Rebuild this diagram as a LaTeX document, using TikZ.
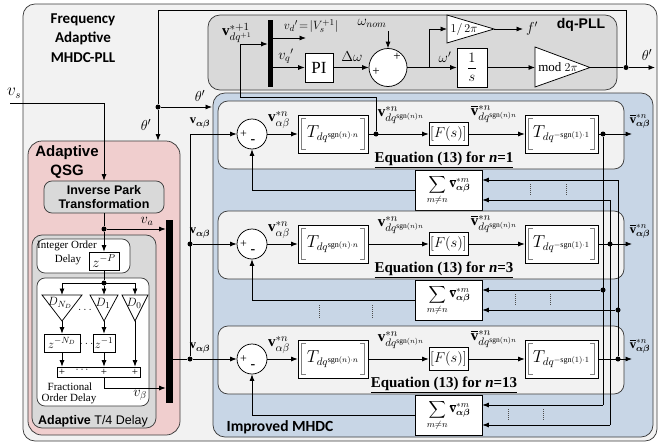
\documentclass[tikz,border=0pt]{standalone}
\usepackage{amsmath}
\usepackage{bm}
\usepackage{fontspec}
\setmainfont{Liberation Serif}
\newfontfamily\calfont{Carlito}
\newfontfamily\arfont{Liberation Sans}
\usetikzlibrary{arrows.meta,calc}
\definecolor{outerfill}{RGB}{242,242,242}
\definecolor{pllfill}{RGB}{217,217,217}
\definecolor{bluefill}{RGB}{200,214,230}
\definecolor{pinkfill}{RGB}{240,206,206}
\definecolor{rowfill}{RGB}{242,242,242}
\definecolor{edge}{RGB}{60,60,60}
\newcommand\bx[7]{\node[#6, minimum width={((#4)-(#2))*1pt}, minimum height={((#5)-(#3))*1pt}, inner sep=0pt] (#1) at ({((#2)+(#4))/2},{((#3)+(#5))/2}) {#7};}
\begin{document}
\begin{tikzpicture}[x=1pt,y=-1pt,line width=0.75pt,
  >={Latex[length=6.5pt,width=5pt]},
  every node/.style={font=\fontsize{13}{15}\selectfont},
  wbox/.style={draw, fill=white},
  dot/.style={circle, fill, inner sep=0pt, minimum size=5pt},
  lbl/.style={inner sep=1pt},
  mlbl/.style={inner sep=0.5pt, font=\fontsize{15}{17}\selectfont},
  vdts/.style={densely dotted, line width=1pt, black!70},
  brk/.style={gray, line width=0.6pt}]
\useasboundingbox (0,0) rectangle (658,447);

% ---------- frames ----------
\bx{outer}{23}{4}{657}{441}{draw=edge, fill=outerfill, rounded corners=12pt}{}
\node[font=\calfont\bfseries\fontsize{15}{19.5}\selectfont, align=center] (title) at (83,38) {Frequency\\Adaptive\\MHDC-PLL};

\bx{pll}{208}{15}{617}{90}{draw=edge, fill=pllfill, rounded corners=12pt}{}
\node[font=\arfont\bfseries\fontsize{14}{16}\selectfont] (plllbl) at (581,25) {dq-PLL};

\bx{mhdc}{213}{93}{653}{437}{draw=edge, fill=bluefill, rounded corners=12pt}{}
\node[font=\calfont\bfseries\fontsize{15.5}{18}\selectfont] (mhdclbl) at (280,427) {Improved MHDC};

\bx{qsg}{28}{141}{180}{435}{draw=edge, fill=pinkfill, rounded corners=14pt}{}
\node[font=\arfont\bfseries\fontsize{15}{19}\selectfont, align=center] (qsgl) at (67,162) {Adaptive\\QSG};

% ---------- dq-PLL ----------
\node[mlbl] (vpl) at (237,33) {$\mathbf{v}^{*+1}_{dq^{+1}}$};
\bx{dmx}{268}{20}{273}{87}{fill=black}{}
\coordinate (vdo) at (306,38);
\draw[->] (dmx.east |- vdo) -- (vdo);
\node[inner sep=0pt, font=\fontsize{13}{14}\selectfont] (vdl) at (311,26) {$v_d{}'\!=\!|V_s^{+1}|$};
\bx{pi}{305}{53}{333}{82}{wbox}{\fontsize{17}{17}\selectfont PI}
\draw[->] (dmx.east |- pi.west) -- (pi.west);
\node[lbl, font=\fontsize{14}{15}\selectfont] (vql) at (286,56) {$v_q{}'$};
\node[circle, draw, fill=white, minimum size=38pt, inner sep=0pt] (sum) at (388,67.5) {};
\node[inner sep=0pt] (sp1) at (397,57) {+};
\node[inner sep=0pt] (sp2) at (376,72) {+};
\draw[->] (pi.east) -- (sum.west);
\node[lbl, font=\fontsize{14}{15}\selectfont] (dwl) at (352,57) {$\Delta\omega$};
\coordinate (wn) at (388,31);
\node[lbl, font=\fontsize{14}{15}\selectfont] (wnl) at (372,23) {$\omega_{nom}$};
\draw[->] (wn) -- (sum.north);
\coordinate (br) at (429,67.5);
\coordinate (t1a) at (447,15); \coordinate (t1b) at (447,43); \coordinate (t1c) at (494,29);
\coordinate (t1in) at (447,29);
\draw[fill=white] (t1a) -- (t1c) -- (t1b) -- cycle;
\node[lbl, font=\fontsize{13}{14}\selectfont] (t1l) at (464,29) {$1/\,2\pi$};
\bx{is}{457}{48}{487}{87}{wbox}{\fontsize{14}{15}\selectfont$\dfrac{1}{s}$}
\draw (sum.east) -- (br);
\draw[->] (br) |- (t1in);
\draw[->] (br) -- (is.west);
\node[lbl, font=\fontsize{14}{15}\selectfont] (wpl) at (445,57) {$\omega'$};
\coordinate (fout) at (523,29);
\draw[->] (t1c) -- (fout);
\node[lbl, font=\fontsize{14}{15}\selectfont] (fl) at (532,29) {$f'$};
\coordinate (t2a) at (535,47); \coordinate (t2b) at (535,87); \coordinate (t2c) at (590,67.5);
\coordinate (t2in) at (535,67.5);
\draw[fill=white] (t2a) -- (t2c) -- (t2b) -- cycle;
\node[lbl, font=\fontsize{13}{14}\selectfont] (t2l) at (558,67.5) {mod $2\pi$};
\draw[->] (is.east) -- (t2in);
\node[dot] (th1) at (626,67.5) {};
\coordinate (thout) at (655,67.5);
\draw (t2c) -- (th1);
\draw[->] (th1) -- (thout);
\node[lbl, font=\fontsize{15}{16}\selectfont] (thl1) at (647,55) {$\theta'$};
\coordinate (th2) at (626,10);
\coordinate (th3) at (158,10);
\node[dot] (th4) at (158,107) {};
\draw (th1) -- (th2) -- (th3) -- (th4);
\coordinate (thm) at (212,107);
\draw[->] (th4) -- (thm);
\node[lbl, font=\fontsize{15}{16}\selectfont] (thl2) at (200,96) {$\theta'$};
\draw[->] (th4) -- (th4 |- qsg.north);
\node[lbl, font=\fontsize{15}{16}\selectfont] (thl3) at (146,125) {$\theta'$};

% ---------- Adaptive QSG ----------
\coordinate (vs0) at (10,103);
\coordinate (vs1) at (104,103);
\node[lbl, font=\fontsize{16}{17}\selectfont] (vsl) at (14,93) {$v_s$};
\bx{ip}{44}{181}{164}{213}{draw=edge, fill=pllfill, rounded corners=8pt, align=center, font=\arfont\bfseries\fontsize{12.5}{13.5}\selectfont}{Inverse Park\\Transformation}
\draw[->] (vs0) -- (vs1) -- (vs1 |- ip.north);
\bx{tq}{32}{235}{156}{428}{draw=edge, fill=pllfill, rounded corners=10pt}{}
\node[font=\arfont\fontsize{12.5}{14}\selectfont] (tql) at (93,421) {\bfseries Adaptive\mdseries\ T/4 Delay};
\bx{iod}{37}{239}{130}{273}{draw=edge, fill=white, rounded corners=8pt}{}
\node[align=left, font=\fontsize{11}{14}\selectfont] (iodl) at (67,253) {Integer Order\\\hspace*{1.6em}Delay};
\bx{zp}{89}{252}{119}{270}{wbox}{\fontsize{14}{15}\selectfont$z^{-P}$}
\bx{fod}{37}{278}{149}{406}{draw=edge, fill=white, rounded corners=8pt}{}
\bx{dmx2}{166}{220}{173}{403}{fill=black}{}
\node[dot] (va) at (104,229) {};
\draw (va |- ip.south) -- (va);
\draw[->] (va) -- (zp.north);
\draw[->] (va) -- (va -| dmx2.west);
\node[lbl, font=\fontsize{14}{15}\selectfont] (val) at (147,221) {$v_a$};
\node[dot] (fd) at (104,283) {};
\draw (zp.south) -- (fd);
\coordinate (fl) at (62,283); \coordinate (fr) at (135,283);
\draw (fl) -- (fr);
% triangles
\coordinate (dna) at (42,295); \coordinate (dnb) at (82,295); \coordinate (dnc) at (62,321); \coordinate (dnt) at (62,295);
\coordinate (d1a) at (90,295); \coordinate (d1b) at (118,295); \coordinate (d1c) at (104,321); \coordinate (d1t) at (104,295);
\coordinate (d0a) at (122,295); \coordinate (d0b) at (148,295); \coordinate (d0c) at (135,321); \coordinate (d0t) at (135,295);
\draw[fill=white] (dna) -- (dnb) -- (dnc) -- cycle;
\draw[fill=white] (d1a) -- (d1b) -- (d1c) -- cycle;
\draw[fill=white] (d0a) -- (d0b) -- (d0c) -- cycle;
\draw[->] (fl) -- (dnt);
\draw[->] (fd) -- (d1t);
\draw[->] (fr) -- (d0t);
\node[lbl, font=\fontsize{13}{14}\selectfont] (dnl) at (60,303) {$D_{N_D}$};
\node[lbl, font=\fontsize{13}{14}\selectfont] (d1l) at (103,303) {$D_1$};
\node[lbl, font=\fontsize{13}{14}\selectfont] (d0l) at (134,303) {$D_0$};
\node[lbl] (el1) at (85,310) {$\ldots$};
\bx{znd}{44}{334}{80}{352}{wbox}{\fontsize{13}{14}\selectfont$z^{-N_D}$}
\bx{zo}{93}{334}{115}{352}{wbox}{\fontsize{13}{14}\selectfont$z^{-1}$}
\node[lbl] (el2) at (86.5,344) {$\ldots$};
\draw[->] (dnc) -- (znd.north);
\draw[->] (d1c) -- (zo.north);
\bx{sbar}{57}{367}{140}{377}{wbox}{}
\draw[->] (znd.south) -- (znd.south |- sbar.north);
\draw[->] (zo.south) -- (zo.south |- sbar.north);
\draw[->] (d0c) -- (d0c |- sbar.north);
\node[inner sep=0pt, font=\fontsize{11}{12}\selectfont] (pl1) at (62,372) {+};
\node[inner sep=0pt, font=\fontsize{11}{12}\selectfont] (pl2) at (83,370) {$\cdots$};
\node[inner sep=0pt, font=\fontsize{11}{12}\selectfont] (pl3) at (104,372) {+};
\node[inner sep=0pt, font=\fontsize{11}{12}\selectfont] (pl4) at (135,372) {+};
\coordinate (vb) at (104,388);
\draw[->] (vb |- sbar.south) -- (vb) -- (vb -| dmx2.west);
\node[lbl, font=\fontsize{14}{15}\selectfont] (vbl) at (140,395) {$v_\beta$};
\node[font=\fontsize{11}{12}\selectfont] (frl1) at (70,387) {Fractional};
\node[font=\fontsize{11}{12}\selectfont] (frl2) at (69,399) {Order Delay};

% ---------- MHDC rows ----------
\foreach \i/\y/\n in {1/134/1,2/244/3,3/359/13}{
  \bx{row\i}{218}{\y-33}{624}{\y+35}{draw=edge, fill=rowfill, rounded corners=10pt}{}
  \node[circle, draw, fill=white, minimum size=30pt, inner sep=0pt] (c\i) at (252,\y) {};
  \node[inner sep=0pt, font=\fontsize{12}{12}\selectfont] (cp\i) at (243.5,\y) {+};
  \node[inner sep=0pt, font=\bfseries\fontsize{14}{14}\selectfont] (cm\i) at (253,\y+8) {-};
  \bx{ta\i}{298}{\y-19}{368}{\y+19}{wbox}{\fontsize{16}{16}\selectfont$T_{dq^{\mathrm{sgn}(n)\cdot n}}$}
  \draw[brk] ($(ta\i.north west)+(8,4)$) -- ++(-4,0) -- ($(ta\i.south west)+(4,-4)$) -- ++(4,0);
  \draw[brk] ($(ta\i.north east)+(-8,4)$) -- ++(4,0) -- ($(ta\i.south east)+(-4,-4)$) -- ++(-4,0);
  \bx{fs\i}{429}{\y-11.5}{468}{\y+11.5}{wbox}{\fontsize{14}{15}\selectfont$[F(s)]$}
  \bx{tb\i}{525}{\y-19}{598}{\y+19}{wbox}{\fontsize{16}{16}\selectfont$T_{dq^{-\mathrm{sgn}(1)\cdot 1}}$}
  \draw[brk] ($(tb\i.north west)+(8,4)$) -- ++(-4,0) -- ($(tb\i.south west)+(4,-4)$) -- ++(4,0);
  \draw[brk] ($(tb\i.north east)+(-8,4)$) -- ++(4,0) -- ($(tb\i.south east)+(-4,-4)$) -- ++(-4,0);
  \bx{sb\i}{415}{\y+36}{482}{\y+76}{wbox}{\fontsize{13}{14}\selectfont$\displaystyle\sum_{m\neq n}\overline{\mathbf{v}}^{*m}_{\bm{\alpha\beta}}$}
  \node[anchor=base, inner sep=0pt, font=\bfseries\fontsize{15}{16}\selectfont] (eq\i) at (444,\y+28) {\underline{Equation (13) for \textit{n}=\n}};
  \node[mlbl] (la\i) at (279,\y-14) {$\mathbf{v}^{*n}_{\alpha\beta}$};
  \node[mlbl] (lb\i) at (401,\y-19) {$\mathbf{v}^{*n}_{dq^{\mathrm{sgn}(n)n}}$};
  \node[mlbl] (lc\i) at (494,\y-20) {$\overline{\mathbf{v}}^{*n}_{dq^{\mathrm{sgn}(n)n}}$};
  \node[lbl, font=\fontsize{12.5}{13}\selectfont] (ld\i) at (640,\y-13) {$\overline{\mathbf{v}}^{*n}_{\bm{\alpha\beta}}$};
  \node[lbl, font=\fontsize{12.5}{13}\selectfont] (le\i) at (200,\y-11) {$\mathbf{v}_{\bm{\alpha\beta}}$};
  \coordinate (o\i) at (632,\y);
  \draw[->] (c\i.east) -- (ta\i.west);
  \draw[->] (ta\i.east) -- (fs\i.west);
  \draw[->] (fs\i.east) -- (tb\i.west);
  \draw[->] (tb\i.east) -- (o\i);
  \draw[->] (sb\i.west) -| (c\i.south);
}

% ---------- left distribution ----------
\coordinate (vin1) at (190,134);
\node[dot] (vin2) at (190,244) {};
\node[dot] (vin3) at (190,359) {};
\draw (vin1) -- (vin3);
\draw (dmx2.east |- vin3) -- (vin3);
\draw[->] (vin1) -- (c1.west);
\draw[->] (vin2) -- (c2.west);
\draw[->] (vin3) -- (c3.west);

% ---------- PLL feedback ----------
\node[dot] (d1) at (376,134) {};
\coordinate (k1) at (376,97);
\coordinate (k2) at (240,97);
\coordinate (k3) at (240,44);
\draw[->] (d1) -- (k1) -- (k2) -- (k3) -- (k3 -| dmx.west);

% ---------- cross feeds ----------
\node[dot] (p1) at (603,134) {};
\node[dot] (p2) at (610,244) {};
\node[dot] (p3) at (618,359) {};
\node[dot] (q21) at (603,290) {};
\coordinate (q31) at (603,405);
\coordinate (r12) at (610,200);
\coordinate (r32) at (610,425);
\coordinate (s13) at (618,180);
\node[dot] (s23) at (618,310) {};
\draw (p1) -- (q31);
\draw (r12) -- (r32);
\draw (s13) -- (p3);
\draw[->] (q21) -- (q21 -| sb2.east);
\draw[->] (q31) -- (q31 -| sb3.east);
\draw[->] (r12) -- (r12 -| sb1.east);
\draw[->] (r32) -- (r32 -| sb3.east);
\draw[->] (s13) -- (s13 -| sb1.east);
\draw[->] (s23) -- (s23 -| sb2.east);

% ---------- vertical ellipses ----------
\draw[vdts] (530,184) -- (530,196);
\draw[vdts] (566,184) -- (566,196);
\draw[vdts] (515,294) -- (515,306);
\draw[vdts] (550,294) -- (550,306);
\draw[vdts] (319,305) -- (319,318);
\draw[vdts] (372,305) -- (372,318);
\draw[vdts] (508,409) -- (508,421);
\draw[vdts] (543,409) -- (543,421);
\end{tikzpicture}
\end{document}
